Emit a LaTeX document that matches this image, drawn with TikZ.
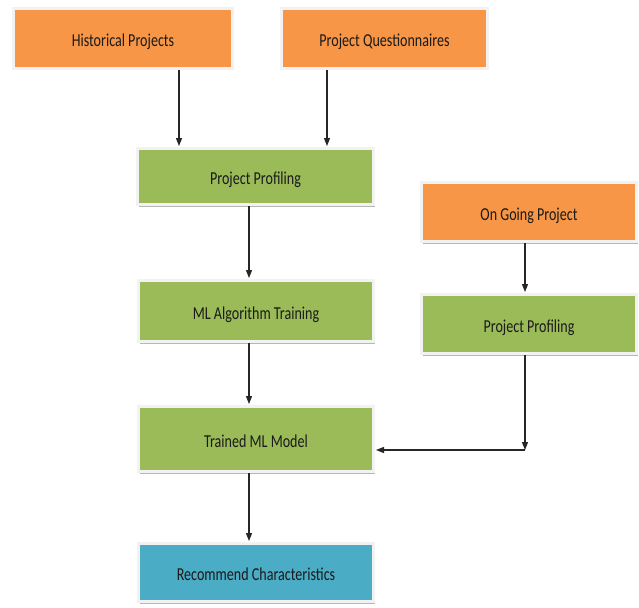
\documentclass[tikz,border=0pt]{standalone}
\usepackage{fontspec}
\setmainfont{Carlito}
\usetikzlibrary{arrows.meta,shadows}
\definecolor{inorange}{HTML}{F79646}
\definecolor{ingreen}{HTML}{9BBB59}
\definecolor{outblue}{HTML}{4BACC6}
\definecolor{rim}{HTML}{F2F2F2}
\definecolor{txt}{HTML}{1A1A1A}
\newcommand{\lbl}[1]{\scalebox{1.02}[1.32]{#1}}
\begin{document}
\begin{tikzpicture}[x=1pt,y=-1pt,
  box/.style={draw=rim,line width=3pt,inner sep=0pt,text=txt,
    text height=18pt,text depth=2pt,
    font=\fontsize{13.8}{16}\selectfont,
    drop shadow={shadow xshift=1.5pt,shadow yshift=-2pt,fill=black!35,opacity=0.8}},
  orangebox/.style={box,fill=inorange},
  greenbox/.style={box,fill=ingreen},
  bluebox/.style={box,fill=outblue},
  arr/.style={-{Triangle[length=8pt,width=6pt]},line width=1.2pt,black!85,shorten >=1pt}]
\useasboundingbox (0,0) rectangle (639,607);
\fill[white] (0,0) rectangle (639,607);

% inputs
\node[orangebox,minimum width=219pt,minimum height=60pt] (hist) at (123,38.5) {\lbl{Historical Projects}};
\node[orangebox,minimum width=206pt,minimum height=60pt] (quest) at (384.5,38.5) {\lbl{Project Questionnaires}};
\node[orangebox,minimum width=215pt,minimum height=59pt] (ongo) at (529,212) {\lbl{On Going Project}};

% training pipeline
\node[greenbox,minimum width=236pt,minimum height=56pt] (prof1) at (255.5,176.5) {\lbl{Project Profiling}};
\node[greenbox,minimum width=235pt,minimum height=61pt] (train) at (256,311) {\lbl{ML Algorithm Training}};
\node[greenbox,minimum width=235pt,minimum height=65pt] (model) at (256,439) {\lbl{Trained ML Model}};
\node[greenbox,minimum width=215pt,minimum height=59pt] (prof2) at (529,324) {\lbl{Project Profiling}};

% output
\node[bluebox,minimum width=235pt,minimum height=58pt] (recom) at (256,572.5) {\lbl{Recommend Characteristics}};

% connectors
\coordinate (xh) at (179,0);
\coordinate (xq) at (327,0);
\coordinate (xm) at (249,0);
\coordinate (xr) at (525,0);
\coordinate (corner) at (525,450);

\draw[arr] (hist.south -| xh) -- (prof1.north -| xh);
\draw[arr] (quest.south -| xq) -- (prof1.north -| xq);
\draw[arr] (prof1.south -| xm) -- (train.north -| xm);
\draw[arr] (train.south -| xm) -- (model.north -| xm);
\draw[arr] (model.south -| xm) -- (recom.north -| xm);
\draw[arr] (ongo.south -| xr) -- (prof2.north -| xr);
\draw[arr,shorten >=0pt] (prof2.south -| xr) -- (corner);
\draw[arr] (corner) -- (model.east |- corner);
\end{tikzpicture}
\end{document}
